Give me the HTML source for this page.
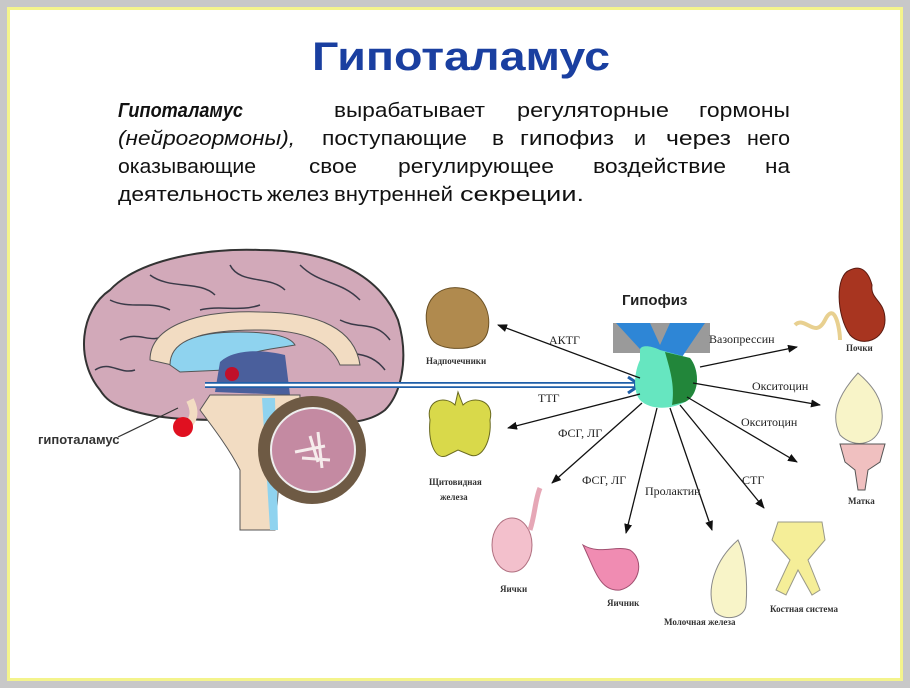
<!DOCTYPE html>
<html><head><meta charset="utf-8"><style>
html,body{margin:0;padding:0;background:#fff}
svg{display:block}
svg text{font-family:"Liberation Sans",sans-serif}
svg .s text{font-family:"Liberation Serif",serif;font-size:12px;fill:#222}
svg text.sl{font-family:"Liberation Serif",serif;font-size:9px;font-weight:bold;fill:#333}
</style></head><body>
<svg width="910" height="688" viewBox="0 0 910 688" xmlns="http://www.w3.org/2000/svg">
<defs>
<marker id="a" markerWidth="10" markerHeight="8" refX="9" refY="4" orient="auto" markerUnits="userSpaceOnUse"><path d="M0,0 L10,4 L0,8 Z" fill="#111"/></marker>
</defs>
<rect width="910" height="688" fill="#c8c8c8"/>
<rect x="7" y="7" width="896" height="674" fill="#f4f48c"/>
<rect x="10" y="10" width="890" height="668" fill="#fff"/>

<text x="461" y="70" font-size="40" font-weight="bold" fill="#1a3fa0" text-anchor="middle" textLength="298" lengthAdjust="spacingAndGlyphs">Гипоталамус</text>
<g font-size="20" fill="#111">
<text x="118" y="117" font-style="italic" font-weight="bold" textLength="125" lengthAdjust="spacingAndGlyphs">Гипоталамус</text>
<text x="334" y="117" textLength="151" lengthAdjust="spacingAndGlyphs">вырабатывает</text>
<text x="517" y="117" textLength="152" lengthAdjust="spacingAndGlyphs">регуляторные</text>
<text x="699" y="117" textLength="91" lengthAdjust="spacingAndGlyphs">гормоны</text>
<text x="118" y="145" font-style="italic" textLength="177" lengthAdjust="spacingAndGlyphs">(нейрогормоны),</text>
<text x="322" y="145" textLength="145" lengthAdjust="spacingAndGlyphs">поступающие</text>
<text x="492" y="145" textLength="12" lengthAdjust="spacingAndGlyphs">в</text>
<text x="520" y="145" textLength="94" lengthAdjust="spacingAndGlyphs">гипофиз</text>
<text x="634" y="145" textLength="12" lengthAdjust="spacingAndGlyphs">и</text>
<text x="666" y="145" textLength="65" lengthAdjust="spacingAndGlyphs">через</text>
<text x="747" y="145" textLength="43" lengthAdjust="spacingAndGlyphs">него</text>
<text x="118" y="173" textLength="138" lengthAdjust="spacingAndGlyphs">оказывающие</text>
<text x="309" y="173" textLength="48" lengthAdjust="spacingAndGlyphs">свое</text>
<text x="398" y="173" textLength="156" lengthAdjust="spacingAndGlyphs">регулирующее</text>
<text x="593" y="173" textLength="133" lengthAdjust="spacingAndGlyphs">воздействие</text>
<text x="765" y="173" textLength="25" lengthAdjust="spacingAndGlyphs">на</text>
<text x="118" y="201" textLength="145" lengthAdjust="spacingAndGlyphs">деятельность</text>
<text x="267" y="201" textLength="62" lengthAdjust="spacingAndGlyphs">желез</text>
<text x="334" y="201" textLength="119" lengthAdjust="spacingAndGlyphs">внутренней</text>
<text x="460" y="201" textLength="124" lengthAdjust="spacingAndGlyphs">секреции.</text>
</g>

<!-- brain -->
<path d="M100,390 C75,360 80,310 110,290 C140,258 210,248 260,250 C330,250 380,275 398,320 C410,360 400,395 385,410 C360,430 320,420 290,420 L230,420 C200,420 160,420 130,410 C112,405 105,398 100,390 Z" fill="#d2a9b9" stroke="#333" stroke-width="2"/>
<g fill="none" stroke="#3a3a48" stroke-width="1.5">
<path d="M110,300 C130,310 150,300 170,310"/><path d="M150,275 C170,290 200,280 215,295"/>
<path d="M230,265 C240,285 270,275 285,290"/><path d="M300,265 C320,285 340,280 360,300"/>
<path d="M120,340 C140,330 150,345 165,335"/><path d="M340,320 C360,330 375,320 390,340"/>
<path d="M330,350 C350,355 370,350 385,370"/><path d="M200,310 C220,305 240,312 260,305"/>
<path d="M95,370 C110,360 120,375 135,370"/>
</g>
<path d="M150,360 C150,325 200,310 260,312 C320,312 355,330 360,365 L340,365 C330,340 300,330 260,330 C210,330 175,335 172,365 Z" fill="#f2dcc2" stroke="#555"/>
<path d="M170,365 C170,340 200,332 240,332 C270,332 290,336 295,345 C270,350 240,350 225,370 L180,372 Z" fill="#8fd3ef" stroke="#555"/>
<path d="M220,362 C235,348 265,350 285,355 L290,395 L215,392 Z" fill="#4a5f9c"/>
<circle cx="232" cy="374" r="7" fill="#c0102a"/>
<path d="M210,395 L300,395 C300,420 290,440 280,470 L275,530 L240,530 L240,470 C230,450 215,430 200,410 Z" fill="#f2dcc2" stroke="#555"/>
<path d="M262,398 L275,398 L278,530 L270,530 Z" fill="#8fd3ef"/>
<circle cx="312" cy="450" r="54" fill="#6e5a44"/>
<circle cx="313" cy="450" r="42" fill="#c48aa2" stroke="#eee" stroke-width="2"/>
<path d="M295,452 L325,446 M310,436 L318,462 M302,458 L330,460 M318,432 L322,468" stroke="#f6ecec" stroke-width="3" fill="none"/>
<path d="M190,400 C195,410 195,418 188,425" stroke="#f2dcc2" stroke-width="8" fill="none"/>
<circle cx="183" cy="427" r="10" fill="#e01020"/>
<line x1="118" y1="437" x2="178" y2="408" stroke="#333" stroke-width="1.2"/>
<text x="38" y="444" font-size="13" font-weight="bold" fill="#333">гипоталамус</text>

<!-- blue arrow -->
<line x1="205" y1="385" x2="636" y2="385" stroke="#1f5fa8" stroke-width="6"/>
<line x1="205" y1="385" x2="634" y2="385" stroke="#fff" stroke-width="2.5"/>
<path d="M628,377 L640,385 L628,393" fill="none" stroke="#1f5fa8" stroke-width="3"/>

<!-- pituitary -->
<text x="622" y="305" font-size="15" font-weight="bold" fill="#222">Гипофиз</text>
<rect x="613" y="323" width="97" height="30" fill="#9a9a9a"/>
<path d="M616,323 L650,323 L660,345 L670,323 L705,323 L690,345 L680,360 L650,360 Z" fill="#2e86d6"/>
<path d="M640,350 C640,345 650,345 660,350 L690,358 C700,370 700,395 685,402 C670,410 650,410 640,400 C632,390 635,370 640,360 Z" fill="#66e6c0"/>
<path d="M665,352 L690,358 C700,370 700,395 685,402 L672,405 C675,385 670,370 665,352 Z" fill="#22863a"/>

<!-- arrows -->
<g stroke="#111" stroke-width="1.3" marker-end="url(#a)">
<line x1="640" y1="378" x2="498" y2="325"/>
<line x1="640" y1="394" x2="508" y2="428"/>
<line x1="642" y1="403" x2="552" y2="483"/>
<line x1="657" y1="408" x2="626" y2="533"/>
<line x1="670" y1="408" x2="712" y2="530"/>
<line x1="680" y1="405" x2="764" y2="508"/>
<line x1="687" y1="397" x2="797" y2="462"/>
<line x1="693" y1="383" x2="820" y2="405"/>
<line x1="700" y1="367" x2="797" y2="347"/>
</g>
<g class="s">
<text x="549" y="344">АКТГ</text>
<text x="538" y="402">ТТГ</text>
<text x="558" y="437">ФСГ, ЛГ</text>
<text x="582" y="484">ФСГ, ЛГ</text>
<text x="645" y="495">Пролактин</text>
<text x="742" y="484">СТГ</text>
<text x="741" y="426">Окситоцин</text>
<text x="752" y="390">Окситоцин</text>
<text x="709" y="343">Вазопрессин</text>
</g>

<!-- organs -->
<path d="M428,330 C420,300 440,285 460,288 C480,290 492,310 488,330 C485,345 470,350 450,348 C435,346 430,340 428,330 Z" fill="#b08a4e" stroke="#6a5024"/>
<text class="sl" x="426" y="364">Надпочечники</text>
<path d="M430,420 C425,400 445,395 455,405 L458,392 L463,405 C473,395 495,400 490,420 C492,440 482,460 470,455 L458,450 L446,456 C434,460 428,440 430,420 Z" fill="#d9d94a" stroke="#6a6a20"/>
<text class="sl" x="429" y="485">Щитовидная</text>
<text class="sl" x="440" y="500">железа</text>
<ellipse cx="512" cy="545" rx="20" ry="27" fill="#f3c0cc" stroke="#b07080"/>
<path d="M530,530 C535,515 535,500 540,488" stroke="#e6a7b6" stroke-width="5" fill="none"/>
<text class="sl" x="500" y="592">Яички</text>
<path d="M583,545 C600,555 615,545 630,550 C645,560 640,585 620,590 C600,592 595,570 583,545 Z" fill="#f08cb2" stroke="#a05070"/>
<text class="sl" x="607" y="606">Яичник</text>
<path d="M738,540 C715,560 705,590 715,612 C725,622 745,618 746,605 C748,580 745,555 738,540 Z" fill="#f8f4c8" stroke="#888"/>
<text class="sl" x="664" y="625">Молочная железа</text>
<path d="M778,522 L822,522 L825,540 L808,560 L820,590 L812,595 L798,570 L786,595 L776,590 L790,560 L772,540 Z" fill="#f5ee98" stroke="#998"/>
<text class="sl" x="770" y="612">Костная система</text>
<path d="M850,270 C835,275 836,315 850,335 C862,348 885,340 885,320 C885,300 870,300 872,285 C868,270 860,265 850,270 Z" fill="#a83520" stroke="#5a1a10"/>
<path d="M795,325 C805,315 815,340 825,320 C835,300 840,330 840,340" stroke="#e8d090" stroke-width="4" fill="none"/>
<text class="sl" x="846" y="351">Почки</text>
<path d="M858,373 C838,395 830,415 840,435 C855,450 880,445 882,420 C884,400 872,385 858,373 Z" fill="#f8f4c8" stroke="#888"/>
<path d="M840,444 L885,444 L880,462 L868,470 L865,490 L858,490 L855,470 L845,462 Z" fill="#f0c0c0" stroke="#555"/>
<text class="sl" x="848" y="504">Матка</text>
</svg>
</body></html>
